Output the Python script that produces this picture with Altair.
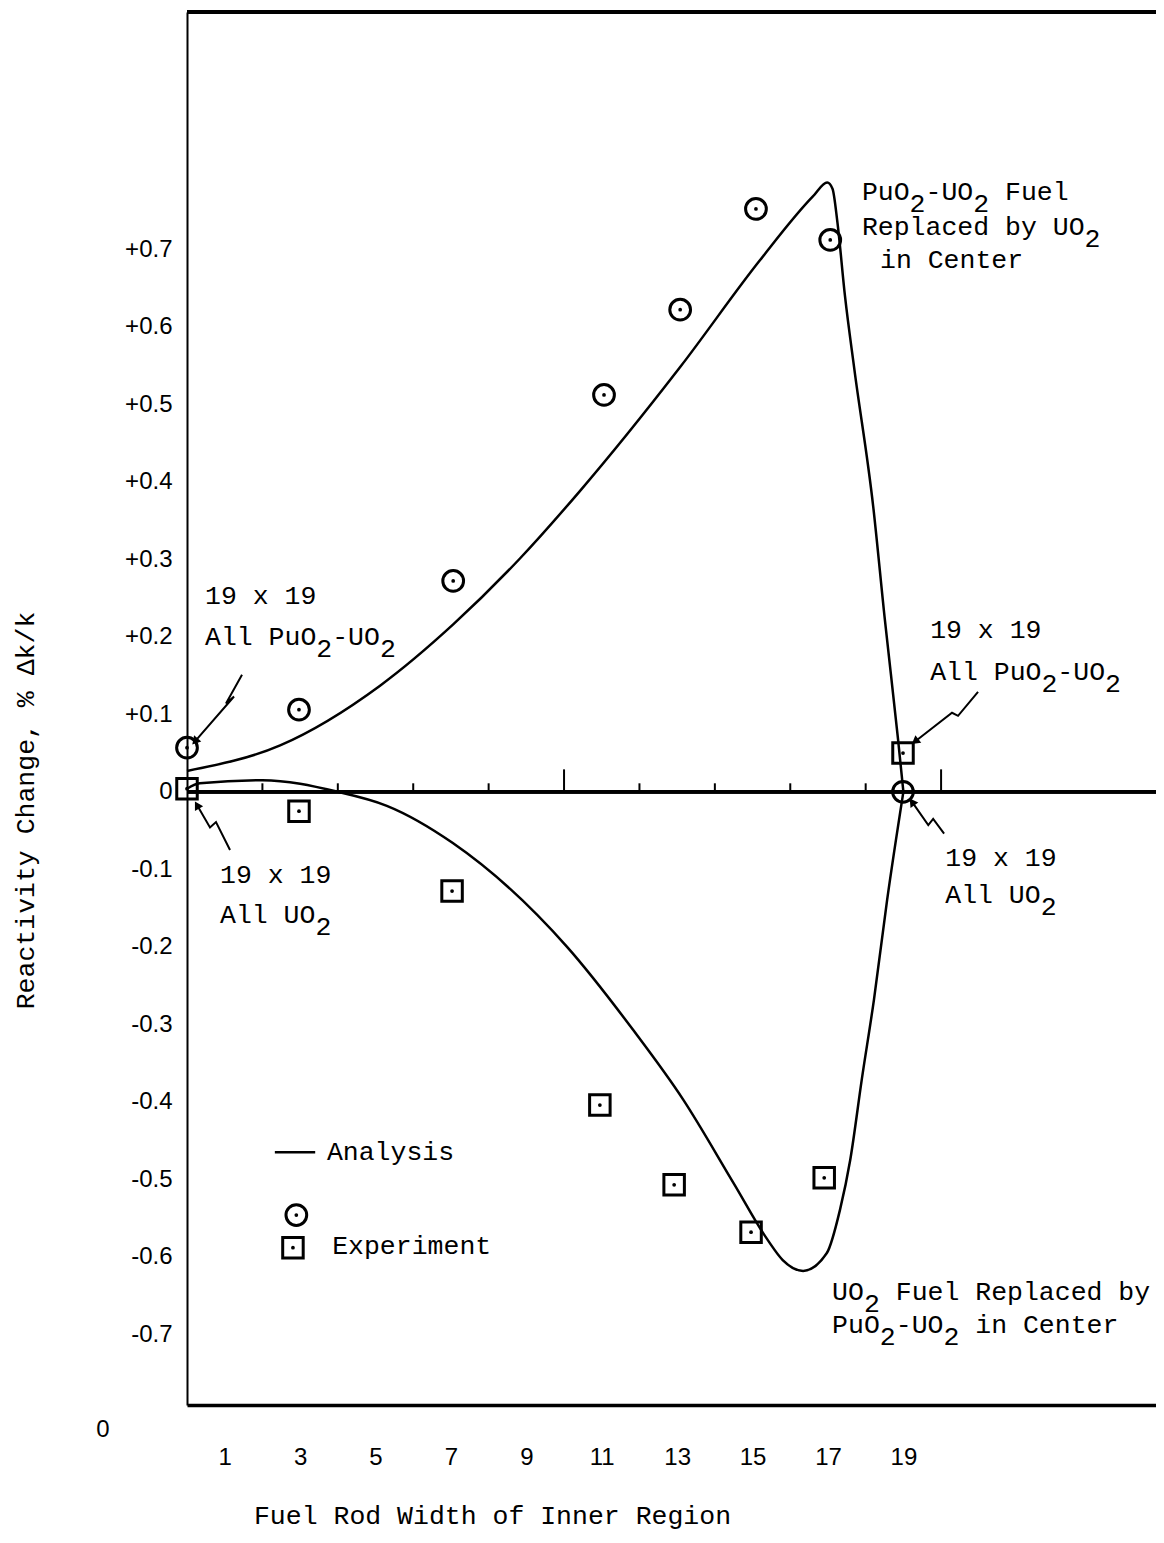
import altair as alt
import pandas as pd

# ---------------- values ----------------
# Experiment (circles: PuO2-UO2 replaced by UO2 in center; squares: UO2 replaced by PuO2-UO2)
circ_x = [0.0, 2.97, 7.06, 11.06, 13.08, 15.09, 17.06, 18.99]
circ_y = [0.057, 0.106, 0.272, 0.512, 0.622, 0.752, 0.712, 0.0]
sq_x = [0.0, 2.97, 7.03, 10.95, 12.92, 14.96, 16.90, 18.99]
sq_y = [0.004, -0.025, -0.128, -0.404, -0.507, -0.568, -0.498, 0.050]

# Analysis curves
up_x = [0.0, 2.47, 5.12, 7.06, 8.83, 10.42, 13.08, 15.2, 16.6, 16.98, 17.12, 17.25,
        17.45, 17.7, 18.2, 18.5, 18.86, 19.0]
up_y = [0.027, 0.06, 0.137, 0.216, 0.301, 0.388, 0.548, 0.686, 0.768, 0.786, 0.778, 0.735,
        0.64, 0.545, 0.368, 0.226, 0.067, 0.0]
lo_x = [0.0, 0.34, 2.0, 4.0, 5.3, 7.05, 10.08, 11.83, 13.16, 14.5, 15.4, 15.8, 16.34,
        16.97, 17.32, 17.59, 17.9, 18.22, 18.57, 19.0]
lo_y = [0.004, 0.011, 0.015, 0.0, -0.018, -0.066, -0.2, -0.307, -0.397, -0.505, -0.578,
        -0.604, -0.618, -0.595, -0.539, -0.475, -0.37, -0.268, -0.139, 0.0]

# Axis ticks / labels
y_tick_values = [-0.7, -0.6, -0.5, -0.4, -0.3, -0.2, -0.1, 0.0, 0.1, 0.2, 0.3, 0.4, 0.5, 0.6, 0.7]
x_tick_values = [1, 3, 5, 7, 9, 11, 13, 15, 17, 19]
zero_line_ticks = [2, 4, 6, 8, 10, 12, 14, 16, 18, 20]

# Annotations (₂ marks a typed, lowered subscript digit)
ann_text = ["19 x 19", "All PuO₂-UO₂", "19 x 19", "All UO₂",
            "19 x 19", "All PuO₂-UO₂", "19 x 19", "All UO₂",
            "PuO₂-UO₂ Fuel", "Replaced by UO₂", "in Center",
            "UO₂ Fuel Replaced by", "PuO₂-UO₂ in Center",
            "Analysis", "Experiment"]
ann_x = [0.477, 0.477, 0.875, 0.875, 19.71, 19.71, 20.11, 20.11,
         17.9, 17.9, 18.38, 17.11, 17.11, 3.71, 3.85]
ann_y = [0.252, 0.2, -0.107, -0.159, 0.209, 0.155, -0.085, -0.133,
         0.774, 0.729, 0.686, -0.645, -0.688, -0.465, -0.586]

# Pointer arrows (zig-zag lines), tail -> head
arrow_id = [1, 1, 1, 1, 2, 2, 2, 2, 3, 3, 3, 3, 4, 4, 4, 4]
arrow_seq = [0, 1, 2, 3] * 4
arrow_x = [1.459, 1.034, 1.247, 0.212,
           1.141, 0.769, 0.610, 0.265,
           20.98, 20.45, 20.29, 19.31,
           20.08, 19.79, 19.66, 19.23]
arrow_y = [0.151, 0.114, 0.123, 0.065,
           -0.075, -0.039, -0.046, -0.017,
           0.129, 0.098, 0.102, 0.065,
           -0.054, -0.035, -0.043, -0.013]
head_x = [0.212, 0.265, 19.31, 19.23]
head_y = [0.065, -0.017, 0.065, -0.013]
head_ang = [221, 330, 232, 325]

# Legend sample positions
leg_line_x = [2.33]
leg_line_x2 = [3.4]
leg_line_y = [-0.465]
leg_circ_x = [2.9]
leg_circ_y = [-0.546]
leg_sq_x = [2.81]
leg_sq_y = [-0.588]

X_DOMAIN = [0, 25.7]
Y_DOMAIN = [-0.791, 1.006]

TEXT_FONT = "Liberation Mono"
NUM_FONT = "Liberation Sans Narrow, Liberation Sans, sans-serif"
NBSP = "\u00a0"
ZWSP = "\u200b"

# ---------------- tables ----------------
circ_df = pd.DataFrame({"x": circ_x + leg_circ_x, "y": circ_y + leg_circ_y})
sq_df = pd.DataFrame({"x": sq_x + leg_sq_x, "y": sq_y + leg_sq_y})
dots_df = pd.concat([circ_df, sq_df], ignore_index=True)
curve_df = pd.concat([
    pd.DataFrame({"x": up_x, "y": up_y, "curve": "upper"}),
    pd.DataFrame({"x": lo_x, "y": lo_y, "curve": "lower"}),
], ignore_index=True)
ann_df = pd.DataFrame({
    "x": ann_x, "y": ann_y,
    "main": [s.replace("₂", NBSP) for s in ann_text],
    "sub": [ZWSP + "".join("2" if c == "₂" else NBSP for c in s) for s in ann_text],
})
sub_df = ann_df[ann_df["sub"].str.contains("2")]
arrow_df = pd.DataFrame({"x": arrow_x, "y": arrow_y, "id": arrow_id, "seq": arrow_seq})
head_df = pd.DataFrame({"x": head_x, "y": head_y, "ang": head_ang})
tick_df = pd.DataFrame({"x": zero_line_ticks, "y": [0.0] * len(zero_line_ticks)})
leg_df = pd.DataFrame({"x": leg_line_x, "x2": leg_line_x2, "y": leg_line_y})
origin_df = pd.DataFrame({"x": [-2.23], "y": [-0.823], "t": ["0"]})

X = alt.X(
    "x:Q",
    scale=alt.Scale(domain=X_DOMAIN, nice=False, zero=False),
    axis=alt.Axis(
        values=x_tick_values, tickSize=0, grid=False,
        domain=True, domainColor="black", domainWidth=3.5,
        labelFont=NUM_FONT, labelFontSize=24, labelColor="black",
        labelPadding=40, labelFlush=False,
        title="Fuel Rod Width of Inner Region",
        titleFont=TEXT_FONT, titleFontSize=26.5, titleFontWeight="normal",
        titleColor="black", titleX=305, titleY=110,
        titleAlign="center", titleBaseline="middle",
    ),
)
Y = alt.Y(
    "y:Q",
    scale=alt.Scale(domain=Y_DOMAIN, nice=False, zero=False),
    axis=alt.Axis(
        values=y_tick_values, tickSize=0, grid=False,
        domain=True, domainColor="black", domainWidth=2,
        labelFont=NUM_FONT, labelFontSize=24, labelColor="black",
        labelPadding=15, labelFlush=False,
        labelExpr="datum.value > 0.001 ? '+' + format(datum.value, '.1f') : "
                  "(datum.value < -0.001 ? '-' + format(abs(datum.value), '.1f') : '0')",
        title="Reactivity Change,  % Δk/k",
        titleFont=TEXT_FONT, titleFontSize=26.5, titleFontWeight="normal",
        titleColor="black", titleX=-162, titleY=798, titleAngle=270,
        titleAlign="center", titleBaseline="middle",
    ),
)

zero_line = alt.Chart(tick_df).mark_rule(color="black", strokeWidth=3).encode(y=alt.datum(0))
top_line = alt.Chart(tick_df).mark_rule(color="black", strokeWidth=3.5).encode(y=alt.datum(Y_DOMAIN[1]))

ticks = alt.Chart(tick_df).transform_calculate(
    top="datum.x % 10 == 0 ? 0.029 : 0.011"
).mark_rule(color="black", strokeWidth=2).encode(x=X, y=Y, y2="top:Q")

curves = alt.Chart(curve_df).mark_line(
    color="black", strokeWidth=2.5, interpolate="monotone"
).encode(x=X, y=Y, detail="curve:N")

legend_line = alt.Chart(leg_df).mark_rule(color="black", strokeWidth=2.5).encode(
    x=X, x2="x2:Q", y=Y
)

circles = alt.Chart(circ_df).mark_point(
    shape="circle", filled=False, color="black", strokeWidth=3, size=430, opacity=1
).encode(x=X, y=Y)
squares = alt.Chart(sq_df).mark_point(
    shape="square", filled=False, color="black", strokeWidth=3, size=420, opacity=1
).encode(x=X, y=Y)
dots = alt.Chart(dots_df).mark_point(
    shape="circle", filled=True, color="black", size=14, opacity=1
).encode(x=X, y=Y)

arrows = alt.Chart(arrow_df).mark_line(color="black", strokeWidth=2).encode(
    x=X, y=Y, detail="id:N", order="seq:Q"
)
heads = alt.Chart(head_df).mark_point(
    shape="triangle-up", filled=True, color="black", size=90, opacity=1
).encode(x=X, y=Y, angle=alt.Angle("ang:Q", scale=None))

texts = alt.Chart(ann_df).mark_text(
    align="left", baseline="middle", font=TEXT_FONT, fontSize=26.5, color="black"
).encode(x=X, y=Y, text="main:N")
subs = alt.Chart(sub_df).mark_text(
    align="left", baseline="middle", font=TEXT_FONT, fontSize=26.5, color="black", dy=12
).encode(x=X, y=Y, text="sub:N")

origin = alt.Chart(origin_df).mark_text(
    align="center", baseline="middle", font=NUM_FONT, fontSize=24, color="black"
).encode(x=X, y=Y, text="t:N")

chart = alt.layer(
    zero_line, top_line, ticks, curves, legend_line, circles, squares, dots,
    arrows, heads, texts, subs, origin
).properties(
    width=969, height=1393,
    autosize=alt.AutoSizeParams(type="none"),
    padding={"left": 179, "top": 4, "right": 0, "bottom": 128},
).configure_view(strokeWidth=0).configure(background="white")

chart.save("out.html", embed_options={"renderer": "svg", "actions": False})
